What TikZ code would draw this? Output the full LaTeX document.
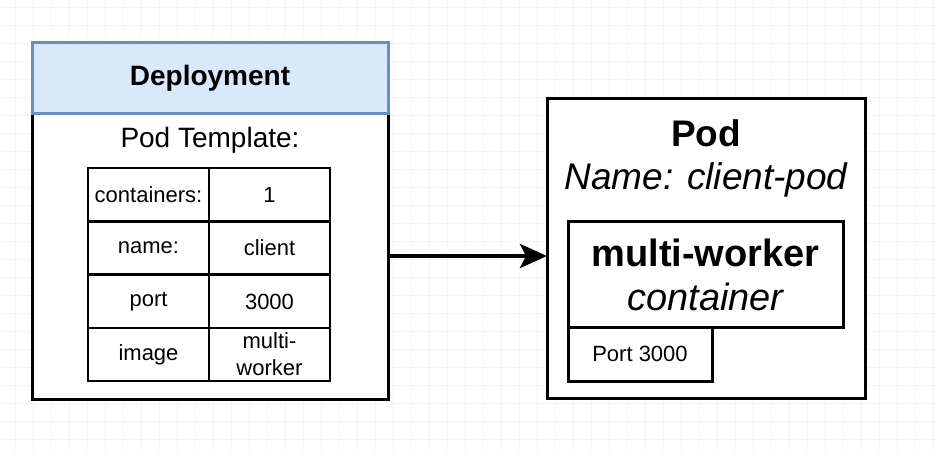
\documentclass[tikz,border=0pt]{standalone}
\usepackage{fontspec}
\setmainfont{Liberation Sans}
\usepackage{tikz}
\usetikzlibrary{arrows.meta,positioning}
\definecolor{headfill}{HTML}{DAE8FC}
\definecolor{headline}{HTML}{6C8EBF}

\begin{document}
\begin{tikzpicture}[
    x=1pt, y=-1pt,
    gridline/.style={draw=gray!8, line width=0.8pt},
    box/.style={rectangle, draw=black, line width=3pt, inner sep=0pt, outer sep=0pt},
    head/.style={box, draw=headline, fill=headfill},
    cell/.style={box, line width=2.8pt, minimum width=121pt, minimum height=53pt, font=\fontsize{22}{27}\selectfont, align=center},
    plain/.style={inner sep=0pt, outer sep=0pt, align=center},
    arrow/.style={-{Stealth[length=27pt,width=24pt,inset=6pt]}, line width=3.4pt}
]
\useasboundingbox (0,0) rectangle (936,452);

% background grid
\foreach \gx in {15,33,...,935} \draw[gridline] (\gx,0) -- (\gx,452);
\foreach \gy in {7,25,...,451} \draw[gridline] (0,\gy) -- (936,\gy);

% Deployment
\node[box, fill=white, minimum width=356pt, minimum height=286pt] (deploybody) at (210,256) {};
\node[head, minimum width=356pt, minimum height=70pt, font=\fontsize{28}{32}\selectfont\bfseries] (deployhead) at (210,78) {Deployment};
\node[plain, font=\fontsize{28}{32}\selectfont] (podtpl) at (210,140) {Pod Template:};

% Pod template table
\node[cell] (c1) at (148.5,194.5) {containers:};
\node[cell] (v1) at (269.5,194.5) {1};
\node[cell] (c2) at (148.5,248) {name:};
\node[cell] (v2) at (269.5,248) {client};
\node[cell] (c3) at (148.5,301.5) {port};
\node[cell] (v3) at (269.5,301.5) {3000};
\node[cell] (c4) at (148.5,354.5) {image};
\node[cell] (v4) at (269.5,354.5) {multi-\\worker};

% Pod
\node[box, fill=white, minimum width=318pt, minimum height=300pt] (pod) at (706,248) {};
\node[plain, font=\fontsize{37}{40}\selectfont\bfseries] (podtitle) at (706,133) {Pod};
\node[plain, font=\fontsize{37}{40}\selectfont\itshape] (podname) at (706,180) {Name: client-pod};
\node[box, minimum width=275pt, minimum height=106pt] (container) at (705.5,274) {};
\node[plain, font=\fontsize{38}{40}\selectfont\bfseries] (ctrname) at (705.5,253) {multi-worker};
\node[plain, font=\fontsize{38}{40}\selectfont\itshape] (ctrtype) at (705.5,297) {container};
\node[box, minimum width=144pt, minimum height=54pt, font=\fontsize{22}{26}\selectfont] (port) at (640,354) {Port 3000};

% Arrow
\draw[arrow] (deploybody.east) -- (pod.west |- deploybody.east);

\end{tikzpicture}
\end{document}
